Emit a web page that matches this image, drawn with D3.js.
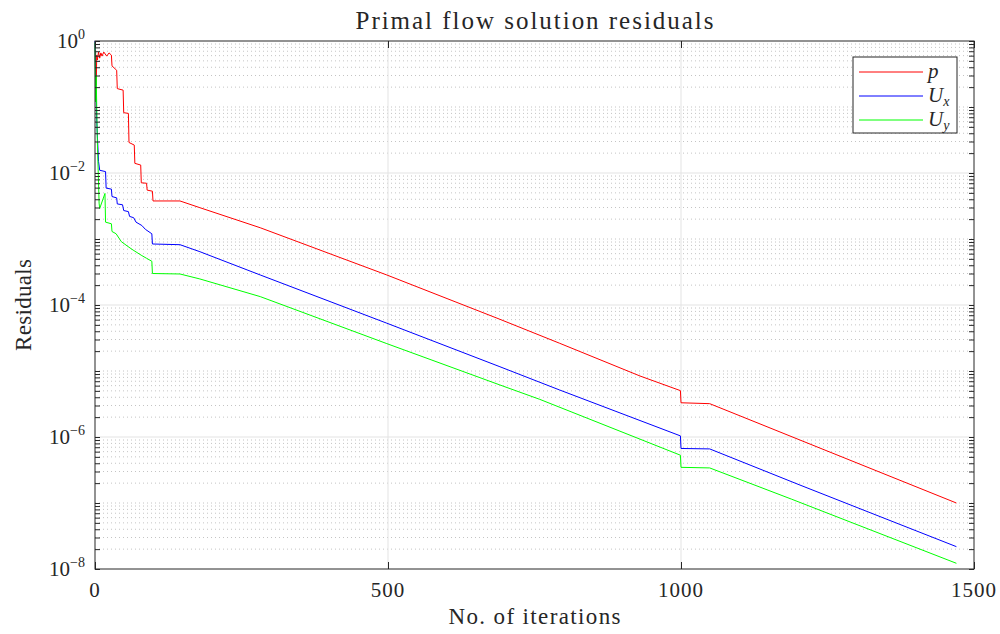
<!DOCTYPE html>
<html>
<head>
<meta charset="utf-8">
<script src="https://cdn.jsdelivr.net/npm/d3@7"></script>
<style>
  body { margin: 0; background: #fff; }
  text { font-family: "Liberation Serif", "DejaVu Serif", serif; fill: #262626; }
</style>
</head>
<body>
<div id="chart"></div>
<script>
// [iteration, residual]
const pData = [
  [0, 0.7], [1, 0.73], [2, 0.215], [3, 0.61], [4, 0.515], [6, 0.68], [8, 0.55], [10, 0.66],
  [12, 0.59], [15, 0.68], [20, 0.59], [24, 0.66], [28, 0.61], [29, 0.42], [37, 0.36], [38, 0.19],
  [48, 0.18], [49, 0.082], [57, 0.08], [58, 0.029], [67, 0.0265], [68, 0.014], [78, 0.0132],
  [79, 0.0071], [88, 0.007], [89, 0.0055], [98, 0.0053], [99, 0.00377], [145, 0.00377],
  [179, 0.00298], [282, 0.00148], [498, 2.85e-4], [691, 6.07e-5],
  [793, 2.63e-5], [930, 8.4e-6], [999, 5.04e-6], [1000, 3.3e-6], [1049, 3.2e-6], [1203, 9.0e-7],
  [1470, 1.0e-7]
];
const uxData = [
  [0, 1.0], [1, 0.3], [3, 0.06], [6, 0.015], [8, 0.011], [18, 0.0105], [19, 0.0059], [28, 0.0057],
  [29, 0.0044], [37, 0.0042], [38, 0.0034], [47, 0.0033], [49, 0.0027], [57, 0.0026], [59, 0.0022],
  [66, 0.0021], [70, 0.0018], [80, 0.0016], [86, 0.0014], [97, 0.0012], [98, 8.4e-4], [145, 8.2e-4],
  [179, 6.42e-4], [282, 2.85e-4], [498, 5.3e-5], [691, 1.16e-5],
  [793, 5.15e-6], [999, 1.04e-6], [1000, 6.7e-7], [1049, 6.6e-7], [1203, 1.87e-7], [1470, 2.18e-8]
];
const uyData = [
  [0, 0.95], [1, 0.12], [2, 0.3], [4, 0.03], [7, 0.0035], [8, 0.0029], [17, 0.0049], [18, 0.0018],
  [28, 0.0017], [29, 0.0013], [36, 0.0012], [45, 9.1e-4], [58, 7.5e-4], [65, 6.8e-4], [80, 5.6e-4],
  [88, 5.1e-4], [97, 4.6e-4], [98, 3.0e-4], [145, 2.95e-4], [179, 2.48e-4], [282, 1.34e-4],
  [498, 2.6e-5], [691, 6.14e-6], [759, 3.72e-6], [999, 5.3e-7],
  [1000, 3.47e-7], [1049, 3.4e-7], [1189, 1.14e-7], [1470, 1.22e-8]
];
const xTicks = [0, 500, 1000, 1500];
const yExp = [0, -2, -4, -6, -8];

const series = [
  {name: "p", sub: null, color: "#ff0000", data: pData},
  {name: "U", sub: "x", color: "#0000ff", data: uxData},
  {name: "U", sub: "y", color: "#00ff00", data: uyData}
];

var width = 1000, height = 634;
const m = {top: 41, right: 26, bottom: 65, left: 95};
const w = width - m.left - m.right, h = height - m.top - m.bottom;

const svg = d3.select("#chart").append("svg").attr("width", width).attr("height", height);
const g = svg.append("g").attr("transform", `translate(${m.left},${m.top})`);

const x = d3.scaleLinear().domain([0, 1500]).range([0, w]);
const y = d3.scaleLog().domain([1e-8, 1]).range([h, 0]);

// minor values 1..9 x 10^k
const minor = [];
for (let k = -8; k < 0; k++) for (let i = 1; i < 10; i++) minor.push(i * Math.pow(10, k));

g.append("g").selectAll("line").data(minor.filter(v => !yExp.includes(Math.round(Math.log10(v) * 1000) / 1000)))
  .enter().append("line")
  .attr("x1", 0).attr("x2", w).attr("y1", d => y(d)).attr("y2", d => y(d))
  .attr("stroke", "#c4c4c4").attr("stroke-dasharray", "1,3").attr("stroke-width", 1);

g.append("g").selectAll("line").data(yExp.slice(1, -1)).enter().append("line")
  .attr("x1", 0).attr("x2", w).attr("y1", d => y(Math.pow(10, d))).attr("y2", d => y(Math.pow(10, d)))
  .attr("stroke", "#e3e3e3");
g.append("g").selectAll("line").data(xTicks.slice(1, -1)).enter().append("line")
  .attr("x1", d => x(d)).attr("x2", d => x(d)).attr("y1", 0).attr("y2", h)
  .attr("stroke", "#e3e3e3");

// lines
const line = d3.line().x(d => x(d[0])).y(d => y(d[1]));
g.selectAll("path.res").data(series).enter().append("path")
  .attr("class", "res").attr("d", d => line(d.data))
  .attr("fill", "none").attr("stroke", d => d.color).attr("stroke-width", 1);

// axes (ticks inward, box)
const ax = "#262626";
g.append("g").attr("transform", `translate(0,${h})`)
  .call(d3.axisBottom(x).tickValues(xTicks).tickSize(-7).tickFormat("")).call(s => s.select(".domain").remove());
g.append("g")
  .call(d3.axisTop(x).tickValues(xTicks).tickSize(-7).tickFormat("")).call(s => s.select(".domain").remove());
g.append("g").call(d3.axisLeft(y).tickValues(minor.concat([1])).tickSize(-5).tickFormat(""))
  .call(s => s.select(".domain").remove());
g.append("g").attr("transform", `translate(${w},0)`)
  .call(d3.axisRight(y).tickValues(minor.concat([1])).tickSize(-5).tickFormat(""))
  .call(s => s.select(".domain").remove());
g.selectAll(".tick line").attr("stroke", ax);
g.append("rect").attr("width", w).attr("height", h).attr("fill", "none").attr("stroke", ax).attr("stroke-width", 1);

// tick labels
g.selectAll("text.xt").data(xTicks).enter().append("text").attr("class", "xt")
  .attr("x", d => x(d)).attr("y", h + 28).attr("text-anchor", "middle").style("font-size", "21px")
  .attr("letter-spacing", "1").text(d => d);
const yl = g.selectAll("text.yt").data(yExp).enter().append("text").attr("class", "yt")
  .attr("x", -10).attr("y", d => y(Math.pow(10, d)) + 7).attr("text-anchor", "end").style("font-size", "21px");
yl.append("tspan").text("10");
yl.append("tspan").attr("dy", -9).style("font-size", "14px").text(d => d === 0 ? "0" : "\u2212" + (-d));

// titles
svg.append("text").attr("x", m.left + w / 2).attr("y", 29).attr("text-anchor", "middle")
  .attr("textLength", 358).attr("lengthAdjust", "spacing")
  .style("font-size", "25px").text("Primal flow solution residuals");
svg.append("text").attr("x", m.left + w / 2).attr("y", 624).attr("text-anchor", "middle")
  .attr("textLength", 172).attr("lengthAdjust", "spacing")
  .style("font-size", "23px").text("No. of iterations");
svg.append("text").attr("transform", `translate(31,${m.top + h / 2}) rotate(-90)`).attr("text-anchor", "middle")
  .attr("textLength", 92).attr("lengthAdjust", "spacing")
  .style("font-size", "23px").text("Residuals");

// legend
const lg = svg.append("g").attr("transform", "translate(853,57)");
lg.append("rect").attr("width", 104).attr("height", 76).attr("fill", "#fff").attr("stroke", ax);
const le = lg.selectAll("g.le").data(series).enter().append("g").attr("class", "le")
  .attr("transform", (d, i) => `translate(0,${15 + i * 24})`);
le.append("line").attr("x1", 6).attr("x2", 70).attr("stroke", d => d.color);
const lt = le.append("text").attr("x", 75).attr("y", 6).style("font-size", "21px").style("font-style", "italic");
lt.append("tspan").text(d => d.name);
lt.append("tspan").attr("dy", 4).style("font-size", "14px").text(d => d.sub || "");
</script>
</body>
</html>
